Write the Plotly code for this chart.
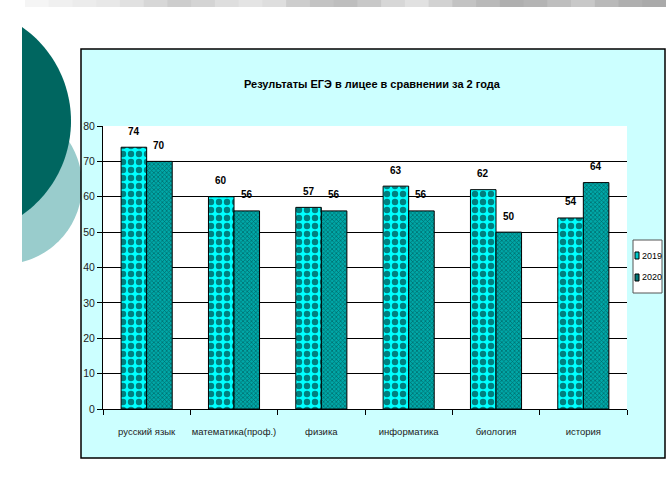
import plotly.graph_objects as go
import numpy as np

categories = ["русский язык", "математика(проф.)", "физика", "информатика", "биология", "история"]
series_names = ["2019", "2020"]
values_2019 = [74, 60, 57, 63, 62, 54]
values_2020 = [70, 56, 56, 56, 50, 64]
y_ticks = [0, 10, 20, 30, 40, 50, 60, 70, 80]

W, H = 666, 502
PL, PR, PT, PB = 103, 627, 126, 409  # plot area in pixels

def px(x):
    return (x - PL) / (PR - PL)

def py(y):
    return (PB - y) / (PB - PT)

FONT = "Liberation Sans Narrow, Arial Narrow, Liberation Sans, Arial, sans-serif"

fig = go.Figure()
fig.add_trace(go.Bar(
    name=series_names[0], x=categories, y=values_2019,
    marker=dict(color="#00FFFF", line=dict(color="black", width=1),
                pattern=dict(shape=".", fgcolor="black", bgcolor="#00FFFF", size=8, solidity=0.5)),
))
fig.add_trace(go.Bar(
    name=series_names[1], x=categories, y=values_2020,
    marker=dict(color="#009999", line=dict(color="black", width=1),
                pattern=dict(shape="x", fgcolor="#002828", bgcolor="#00A8A8", size=3, solidity=0.4)),
))

shapes = []
# top grey gradient strip
greys = [245, 240, 236, 232, 225, 215, 205, 212, 222, 228, 222, 205, 195, 190, 200, 215, 225, 210, 195, 185, 175, 180, 190, 200, 185, 175, 170]
n = len(greys)
x_start, x_end = 25, 666
for i, g in enumerate(greys):
    xa = x_start + (x_end - x_start) * i / n
    xb = x_start + (x_end - x_start) * (i + 1) / n + 1
    shapes.append(dict(type="rect", xref="paper", yref="paper", x0=px(xa), x1=px(xb), y0=py(0), y1=py(7),
                       fillcolor=f"rgb({g},{g},{g})", line=dict(width=0), layer="below"))

def arc_path(cx, cy, r, a0, a1, steps=60):
    pts = []
    for t in np.linspace(a0, a1, steps):
        pts.append((cx + r * np.cos(t), cy + r * np.sin(t)))
    return "M " + " L ".join(f"{px(x):.4f},{py(y):.4f}" for x, y in pts) + " Z"

# light teal circle segment
cx2, cy2, r2 = 2.6, 185.0, 79.4
ang = np.arccos((22 - cx2) / r2)
shapes.append(dict(type="path", xref="paper", yref="paper", path=arc_path(cx2, cy2, r2, -ang, ang),
                   fillcolor="#99CCCC", line=dict(width=0), layer="below"))
# dark teal circle segment
cx1, cy1, r1 = -43.7, 121.0, 114.7
ang1 = np.arccos((22 - cx1) / r1)
shapes.append(dict(type="path", xref="paper", yref="paper", path=arc_path(cx1, cy1, r1, -ang1, ang1),
                   fillcolor="#006660", line=dict(width=0), layer="below"))

# chart box
shapes.append(dict(type="rect", xref="paper", yref="paper", x0=px(81), x1=px(665), y0=py(458), y1=py(49),
                   fillcolor="#CCFFFF", line=dict(color="black", width=1.5), layer="below"))
# plot area
shapes.append(dict(type="rect", xref="paper", yref="paper", x0=0, x1=1, y0=0, y1=1,
                   fillcolor="white", line=dict(width=0), layer="below"))
# legend box
shapes.append(dict(type="rect", xref="paper", yref="paper", x0=px(633), x1=px(662), y0=py(293), y1=py(240),
                   fillcolor="white", line=dict(color="#555555", width=1), layer="above"))
# legend swatches
shapes.append(dict(type="rect", xref="paper", yref="paper", x0=px(635), x1=px(639), y0=py(259), y1=py(252),
                   fillcolor="#00CCCC", line=dict(color="black", width=1), layer="above"))
shapes.append(dict(type="rect", xref="paper", yref="paper", x0=px(635), x1=px(639), y0=py(281), y1=py(274),
                   fillcolor="#007777", line=dict(color="black", width=1), layer="above"))

annotations = []
for vals, shift in ((values_2019, -12.7), (values_2020, 12.7)):
    for c, v in zip(categories, vals):
        annotations.append(dict(x=c, y=v, xref="x", yref="y", text=f"<b>{v}</b>", showarrow=False,
                                xshift=shift, yshift=16, font=dict(size=10, color="black", family=FONT)))
annotations.append(dict(x=px(372), y=py(76), xref="paper", yref="paper",
                        text="<b>Результаты ЕГЭ в лицее в сравнении за 2 года</b>", showarrow=False,
                        font=dict(size=11, color="black", family=FONT)))
for name, yy in zip(series_names, (256, 277)):
    annotations.append(dict(x=px(640), y=py(yy), xref="paper", yref="paper", xanchor="left",
                            text=name, showarrow=False, font=dict(size=9, color="black", family=FONT)))

fig.update_layout(
    width=W, height=H,
    margin=dict(l=PL, r=W - PR, t=PT, b=H - PB, pad=0),
    paper_bgcolor="white", plot_bgcolor="rgba(0,0,0,0)",
    barmode="group", bargap=0.415, bargroupgap=0,
    showlegend=False,
    shapes=shapes, annotations=annotations,
    font=dict(family=FONT, size=10, color="black"),
)
fig.update_xaxes(showline=True, linecolor="black", linewidth=1, ticks="outside", ticklen=5,
                 tickcolor="black", tickson="boundaries", showgrid=False, tickangle=0,
                 tickfont=dict(size=9.5, family=FONT, color="#222222"), ticklabelstandoff=14)
fig.update_yaxes(range=[0, 80], tickvals=y_ticks, showline=True, linecolor="black", linewidth=1,
                 ticks="outside", ticklen=5, tickcolor="black", showgrid=True, gridcolor="black",
                 gridwidth=1, zeroline=False, tickfont=dict(size=10.5, family=FONT, color="#222222"))

fig.write_html("out.html", config={"displayModeBar": False},
               post_script="document.body.style.margin='0px';document.body.style.overflow='hidden';")
